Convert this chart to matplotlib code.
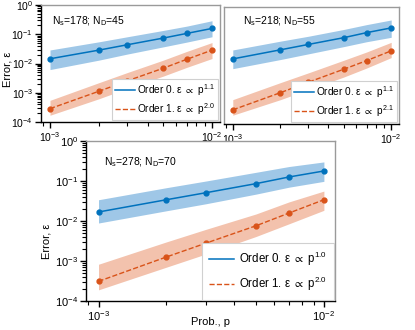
import matplotlib
matplotlib.use("Agg")
import matplotlib.pyplot as plt
from matplotlib.ticker import LogLocator, NullFormatter

plt.rcParams['font.family'] = ['Liberation Sans', 'DejaVu Sans']
plt.rcParams['mathtext.fontset'] = 'custom'
plt.rcParams['mathtext.rm'] = 'Liberation Sans'
plt.rcParams['mathtext.it'] = 'Liberation Sans:italic'
plt.rcParams['mathtext.default'] = 'regular'
plt.rcParams['mathtext.fallback'] = 'stixsans'

# ---------------- data ----------------
p = [1e-3, 2e-3, 3e-3, 5e-3, 7e-3, 1e-2]

# panel A: Ns=178, ND=45
a_o0 = [0.0145, 0.0286, 0.0437, 0.074, 0.107, 0.158]
a_o0_hi = [0.029, 0.055, 0.082, 0.135, 0.19, 0.29]
a_o0_lo = [0.0062, 0.013, 0.021, 0.037, 0.054, 0.082]
a_o1 = [2.86e-4, 1.12e-3, 2.55e-3, 6.9e-3, 0.014, 0.0286]
a_o1_hi = [5.5e-4, 2.2e-3, 4.9e-3, 1.3e-2, 2.6e-2, 0.052]
a_o1_lo = [1.7e-4, 6.2e-4, 1.4e-3, 3.7e-3, 7.4e-3, 0.0148]

# panel B: Ns=218, ND=55
b_o0 = [0.0168, 0.0344, 0.0525, 0.089, 0.133, 0.193]
b_o0_hi = [0.034, 0.068, 0.10, 0.17, 0.25, 0.36]
b_o0_lo = [0.0078, 0.016, 0.025, 0.044, 0.065, 0.092]
b_o1 = [3.05e-4, 1.18e-3, 2.69e-3, 7.4e-3, 0.0147, 0.0317]
b_o1_hi = [6.8e-4, 2.6e-3, 5.6e-3, 1.5e-2, 2.9e-2, 0.062]
b_o1_lo = [2.0e-4, 6.8e-4, 1.5e-3, 4.0e-3, 8.2e-3, 0.0186]

# panel C: Ns=278, ND=70
c_o0 = [0.0168, 0.034, 0.051, 0.086, 0.126, 0.178]
c_o0_hi = [0.034, 0.068, 0.10, 0.165, 0.23, 0.30]
c_o0_lo = [0.0089, 0.018, 0.027, 0.047, 0.07, 0.098]
c_o1 = [3.1e-4, 1.26e-3, 2.8e-3, 7.6e-3, 0.0158, 0.034]
c_o1_hi = [8.3e-4, 3.0e-3, 6.2e-3, 1.5e-2, 0.03, 0.056]
c_o1_lo = [1.9e-4, 7.0e-4, 1.5e-3, 4.1e-3, 8.5e-3, 0.0185]

titles = ["N$_s$=178; N$_D$=45", "N$_s$=218; N$_D$=55", "N$_s$=278; N$_D$=70"]
exps0 = ["1.1", "1.1", "1.0"]
exps1 = ["2.0", "2.1", "2.0"]

BLUE = '#0072BD'
RED = '#D95319'
BLUE_F = '#5FA3D8'
RED_F = '#EB9A77'
GRAY = '#9a9a9a'

W, H = 415, 330
fig = plt.figure(figsize=(W / 100, H / 100), dpi=100)


def ax_at(l, r, t, b):
    return fig.add_axes([l / W, (H - b) / H, (r - l) / W, (b - t) / H])


axA = ax_at(41, 220, 5, 122)
axB = ax_at(224, 399, 7, 124)
axC = ax_at(86, 335, 141, 301)
axC.set_zorder(5)
axC.set_facecolor('white')

panels = [
    (axA, a_o0, a_o0_hi, a_o0_lo, a_o1, a_o1_hi, a_o1_lo, 7.5, (0.061, 0.865)),
    (axB, b_o0, b_o0_hi, b_o0_lo, b_o1, b_o1_hi, b_o1_lo, 7.5, (0.109, 0.88)),
    (axC, c_o0, c_o0_hi, c_o0_lo, c_o1, c_o1_hi, c_o1_lo, 8, (0.072, 0.87)),
]

for i, (ax, o0, o0h, o0l, o1, o1h, o1l, tfs, tpos) in enumerate(panels):
    ax.set_xscale('log')
    ax.set_yscale('log')
    ax.fill_between(p, o0l, o0h, color=BLUE_F, alpha=0.6, linewidth=0)
    ax.fill_between(p, o1l, o1h, color=RED_F, alpha=0.6, linewidth=0)
    ax.plot(p, o0, '-', color=BLUE, lw=1.1, marker='o', ms=3.5,
            label="Order 0. ε $\\propto$ p$^{%s}$" % exps0[i])
    ax.plot(p, o1, '--', color=RED, lw=1.0, marker='o', ms=3.5,
            label="Order 1. ε $\\propto$ p$^{%s}$" % exps1[i])
    ax.set_xlim(8.8e-4, 1.12e-2)
    ax.set_ylim(1e-4, 1e0)
    ax.xaxis.set_major_locator(LogLocator(base=10, numticks=10))
    ax.xaxis.set_minor_locator(LogLocator(base=10, subs=range(2, 10), numticks=20))
    ax.xaxis.set_minor_formatter(NullFormatter())
    ax.yaxis.set_major_locator(LogLocator(base=10, numticks=10))
    ax.yaxis.set_minor_locator(LogLocator(base=10, subs=range(2, 10), numticks=20))
    ax.yaxis.set_minor_formatter(NullFormatter())
    ax.tick_params(which='major', direction='out', length=4.5, width=1,
                   labelsize=tfs, pad=1.2)
    ax.tick_params(which='minor', direction='out', length=3, width=0.8)
    for s in ['top', 'right']:
        ax.spines[s].set_color(GRAY)
        ax.spines[s].set_linewidth(1.0)
    ax.spines['left'].set_linewidth(1.0)
    ax.spines['bottom'].set_linewidth(1.0)
    ax.text(tpos[0], tpos[1], titles[i], transform=ax.transAxes,
            fontsize=7.5, ha='left', va='center')

    if i < 2:
        leg = ax.legend(loc='lower right', fontsize=7.3, handlelength=2.0,
                        handletextpad=0.2, borderpad=0.3, labelspacing=0.35,
                        borderaxespad=0.2, fancybox=False, framealpha=1)
    else:
        leg = ax.legend(loc='lower right', fontsize=8.3, handlelength=2.2,
                        handletextpad=0.4, borderpad=0.6, labelspacing=0.6,
                        borderaxespad=0.1, fancybox=False, framealpha=1)
    leg.get_frame().set_edgecolor('#d0d0d0')
    leg.get_frame().set_linewidth(0.8)
    for ln in leg.get_lines():
        ln.set_marker('')

# panel B: no y tick labels, gray left spine
axB.tick_params(axis='y', which='both', left=False, labelleft=False)
axB.spines['left'].set_color(GRAY)

# axis labels
axA.set_ylabel("Error, ε", fontsize=8)
axA.yaxis.set_label_coords(-0.158, 0.45)
axC.set_ylabel("Error, ε", fontsize=8)
axC.yaxis.set_label_coords(-0.137, 0.375)
axC.set_xlabel("Prob., p", fontsize=8)
axC.xaxis.set_label_coords(0.5, -0.098)

fig.savefig("out.png", dpi=100)
